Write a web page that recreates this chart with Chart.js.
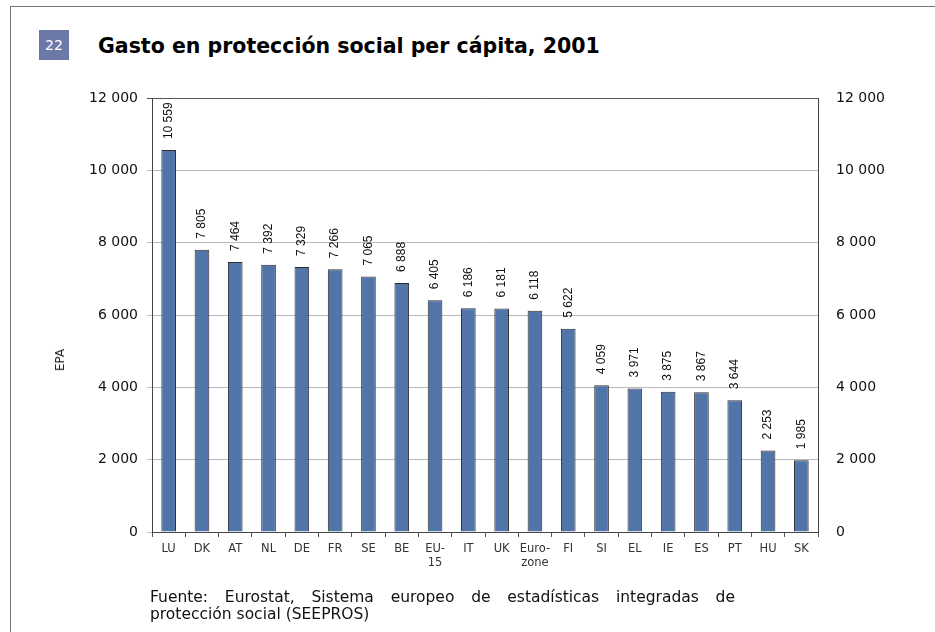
<!DOCTYPE html>
<html lang="es">
<head>
    <meta charset="UTF-8">
    <title>Gasto en protección social per cápita, 2001</title>
    <script src="https://cdn.jsdelivr.net/npm/chart.js"></script>
    <style>
        body { margin: 0; background: #fff; font-family: "DejaVu Sans", Verdana, sans-serif; }
        #page { position: relative; width: 935px; height: 632px; overflow: hidden; }
        #frame { position: absolute; left: 10px; top: 6px; width: 940px; height: 640px;
                 border-left: 1.5px solid #777; border-top: 1.5px solid #777; }
        #badge { position: absolute; left: 39px; top: 30px; width: 30px; height: 30px;
                 background: #6b78a8; color: #fff; font-size: 14px; line-height: 30px; text-align: center; }
        #title { position: absolute; left: 98px; top: 34px; font-size: 20.5px; font-weight: bold; color: #000; }
        #epa { position: absolute; left: 60px; top: 360px; font-size: 12px; color: #222;
               transform: translate(-50%, -50%) rotate(-90deg); }
        #source { position: absolute; left: 150px; top: 589px; width: 585px; font-size: 15.5px;
                  line-height: 17px; color: #111; }
        #source .l1 { text-align: justify; text-align-last: justify; }
        canvas { position: absolute; left: 0; top: 0; }
    </style>
</head>
<body>
<div id="page">
    <div id="frame"></div>
    <div id="badge">22</div>
    <div id="title">Gasto en protección social per cápita, 2001</div>
    <canvas id="chart" width="935" height="632"></canvas>
    <div id="epa">EPA</div>
    <div id="source">
        <div class="l1">Fuente: Eurostat, Sistema europeo de estadísticas integradas de</div>
        <div>protección social (SEEPROS)</div>
    </div>
</div>

<script>
    // Data (EPA per head)
    const countries = ['LU', 'DK', 'AT', 'NL', 'DE', 'FR', 'SE', 'BE', ['EU-', '15'], 'IT', 'UK',
        ['Euro-', 'zone'], 'FI', 'SI', 'EL', 'IE', 'ES', 'PT', 'HU', 'SK'];
    const spending = [10559, 7805, 7464, 7392, 7329, 7266, 7065, 6888, 6405, 6186, 6181,
        6118, 5622, 4059, 3971, 3875, 3867, 3644, 2253, 1985];
    const axisMax = 12000;
    const axisStep = 2000;

    // 10559 -> "10 559"
    function fmt(v) {
        return String(v).replace(/\B(?=(\d{3})+(?!\d))/g, ' ');
    }

    // vertical value labels above each bar
    const barLabels = {
        id: 'barLabels',
        afterDatasetsDraw(chart) {
            const ctx = chart.ctx;
            const meta = chart.getDatasetMeta(0);
            ctx.save();
            ctx.font = '12px "Liberation Sans", Arial, sans-serif';
            ctx.fillStyle = '#111';
            ctx.textAlign = 'left';
            ctx.textBaseline = 'middle';
            meta.data.forEach((bar, i) => {
                ctx.save();
                ctx.translate(bar.x, bar.y - 11);
                ctx.rotate(-Math.PI / 2);
                ctx.fillText(fmt(spending[i]), 0, 0);
                ctx.restore();
            });
            ctx.restore();
        }
    };

    const tickFont = { family: '"DejaVu Sans", Verdana, sans-serif', size: 14 };

    new Chart(document.getElementById('chart'), {
        type: 'bar',
        data: {
            labels: countries,
            datasets: [{
                data: spending,
                backgroundColor: '#5175a8',
                borderColor: '#2e2e2e',
                borderWidth: 1,
                barPercentage: 0.44,
                categoryPercentage: 1
            }]
        },
        options: {
            responsive: false,
            animation: false,
            layout: { padding: { top: 98, left: 0, right: 0, bottom: 0 } },
            plugins: { legend: { display: false }, tooltip: { enabled: false } },
            scales: {
                x: {
                    grid: { offset: true, drawOnChartArea: false, tickLength: 5, color: '#555' },
                    border: { color: '#444', width: 1 },
                    ticks: { padding: 5, color: '#333', maxRotation: 0, autoSkip: false,
                             font: { family: '"DejaVu Sans", Verdana, sans-serif', size: 11.5 } },
                    afterFit(scale) { scale.height = 100; }
                },
                y: {
                    min: 0, max: axisMax,
                    grid: {
                        tickLength: 5,
                        color: ctx => (ctx.tick && ctx.tick.value === axisMax) ? '#555' : '#b8b8b8'
                    },
                    border: { color: '#444', width: 1 },
                    ticks: { stepSize: axisStep, padding: 9, color: '#111', font: tickFont,
                             callback: v => fmt(v) },
                    afterFit(scale) { scale.width = 152; }
                },
                y2: {
                    position: 'right',
                    min: 0, max: axisMax,
                    grid: { display: false },
                    border: { display: true, color: '#444', width: 1 },
                    ticks: { stepSize: axisStep, padding: 10, color: '#111', font: tickFont,
                             callback: v => fmt(v) },
                    afterFit(scale) { scale.width = 117; }
                }
            }
        },
        plugins: [barLabels]
    });
</script>
</body>
</html>
